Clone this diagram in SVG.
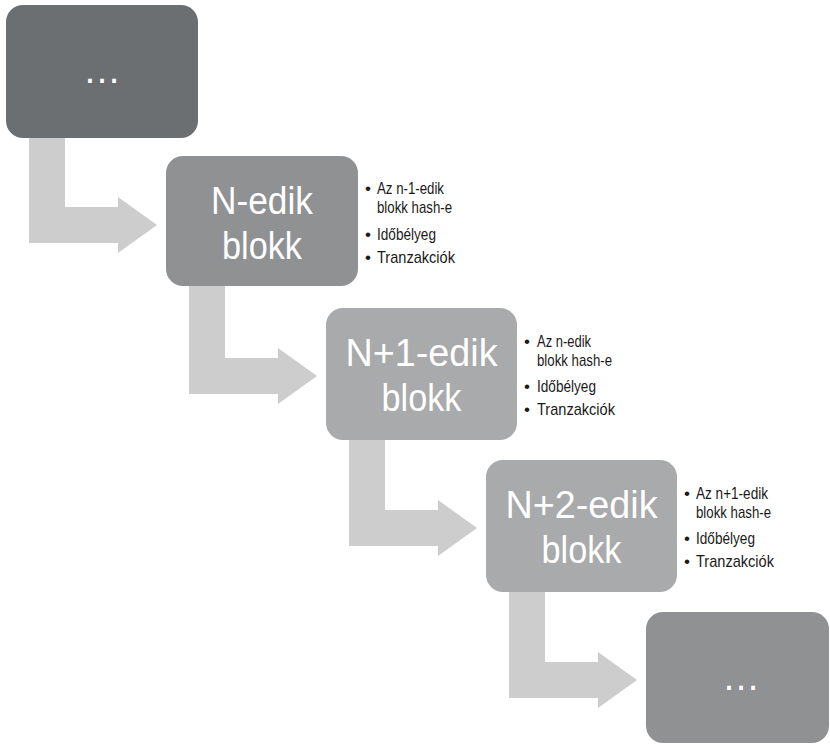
<svg xmlns="http://www.w3.org/2000/svg" width="830" height="744" viewBox="0 0 830 744">
  <style>
    .title { font-family: Arial, "Liberation Sans", Helvetica, sans-serif; font-size: 38px; fill: #ffffff; text-anchor: middle; }
    .dots { font-family: Arial, "Liberation Sans", Helvetica, sans-serif; font-size: 38px; fill: #ffffff; text-anchor: middle; }
    .item { font-family: Arial, "Liberation Sans", Helvetica, sans-serif; font-size: 17px; fill: #1a1a1a; }
    .arrow { fill: #cdcdcd; }
    .dark { fill: #6c6f71; }
    .mid { fill: #8f9193; }
    .light { fill: #a8aaab; }
  </style>
  <defs>
    <path id="bend" d="M29,130 H65 V207 H118 V197 L157,225 L118,253 V243 H29 Z"/>
  </defs>
  <rect width="830" height="744" fill="#ffffff"/>

  <g id="connectors">
    <use href="#bend" class="arrow"/>
    <use href="#bend" class="arrow" transform="translate(160,151)"/>
    <use href="#bend" class="arrow" transform="translate(320,303)"/>
    <use href="#bend" class="arrow" transform="translate(480,455)"/>
  </g>

  <g id="block-prev">
    <rect class="dark" x="6" y="5" width="192" height="133" rx="17"/>
    <text class="dots" x="102" y="83">…</text>
  </g>

  <g id="block-n">
    <rect class="mid" x="166" y="156" width="192" height="130" rx="17"/>
    <text class="title" x="262" y="214" textLength="102" lengthAdjust="spacingAndGlyphs">N-edik</text>
    <text class="title" x="262" y="259" textLength="80" lengthAdjust="spacingAndGlyphs">blokk</text>
  </g>
  <g id="list-n">
    <text class="item" x="365" y="194">•</text>
    <text class="item" x="377" y="194" textLength="67" lengthAdjust="spacingAndGlyphs">Az n-1-edik</text>
    <text class="item" x="377" y="213" textLength="75" lengthAdjust="spacingAndGlyphs">blokk hash-e</text>
    <text class="item" x="365" y="240">•</text>
    <text class="item" x="377" y="240" textLength="59" lengthAdjust="spacingAndGlyphs">Időbélyeg</text>
    <text class="item" x="365" y="263">•</text>
    <text class="item" x="377" y="263" textLength="78" lengthAdjust="spacingAndGlyphs">Tranzakciók</text>
  </g>

  <g id="block-n1">
    <rect class="light" x="326" y="308" width="191" height="132" rx="17"/>
    <text class="title" x="421.5" y="366" textLength="152" lengthAdjust="spacingAndGlyphs">N+1-edik</text>
    <text class="title" x="421.5" y="411" textLength="80" lengthAdjust="spacingAndGlyphs">blokk</text>
  </g>
  <g id="list-n1">
    <text class="item" x="524" y="347">•</text>
    <text class="item" x="537" y="347" textLength="54" lengthAdjust="spacingAndGlyphs">Az n-edik</text>
    <text class="item" x="537" y="366" textLength="75" lengthAdjust="spacingAndGlyphs">blokk hash-e</text>
    <text class="item" x="524" y="392">•</text>
    <text class="item" x="537" y="392" textLength="59" lengthAdjust="spacingAndGlyphs">Időbélyeg</text>
    <text class="item" x="524" y="415">•</text>
    <text class="item" x="537" y="415" textLength="78" lengthAdjust="spacingAndGlyphs">Tranzakciók</text>
  </g>

  <g id="block-n2">
    <rect class="light" x="486" y="460" width="191" height="132" rx="17"/>
    <text class="title" x="581.5" y="518" textLength="152" lengthAdjust="spacingAndGlyphs">N+2-edik</text>
    <text class="title" x="581.5" y="563" textLength="80" lengthAdjust="spacingAndGlyphs">blokk</text>
  </g>
  <g id="list-n2">
    <text class="item" x="684" y="499">•</text>
    <text class="item" x="696" y="499" textLength="72" lengthAdjust="spacingAndGlyphs">Az n+1-edik</text>
    <text class="item" x="696" y="518" textLength="75" lengthAdjust="spacingAndGlyphs">blokk hash-e</text>
    <text class="item" x="684" y="544">•</text>
    <text class="item" x="696" y="544" textLength="59" lengthAdjust="spacingAndGlyphs">Időbélyeg</text>
    <text class="item" x="684" y="567">•</text>
    <text class="item" x="696" y="567" textLength="78" lengthAdjust="spacingAndGlyphs">Tranzakciók</text>
  </g>

  <g id="block-next">
    <rect class="mid" x="646" y="612" width="183" height="131" rx="17"/>
    <text class="dots" x="741" y="690">…</text>
  </g>
</svg>
